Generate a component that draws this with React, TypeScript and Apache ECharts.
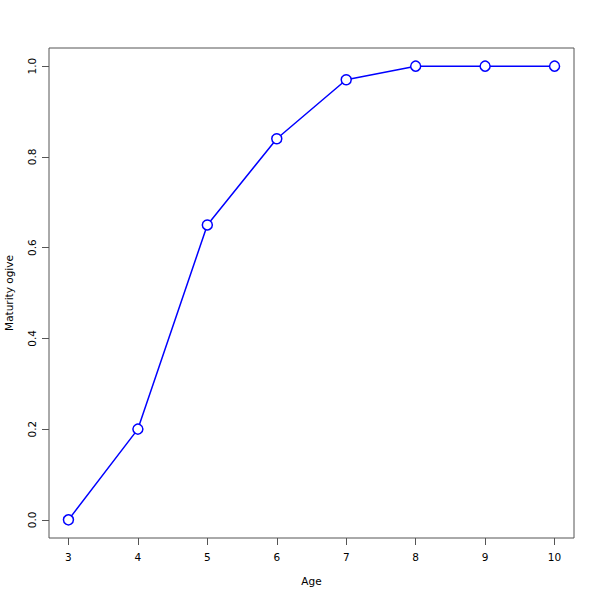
import React, { useEffect, useRef } from "react";
import * as echarts from "echarts";

const ages = [3, 4, 5, 6, 7, 8, 9, 10];
const maturity = [0, 0.2, 0.65, 0.84, 0.97, 1.0, 1.0, 1.0];
const xTicks = [3, 4, 5, 6, 7, 8, 9, 10];
const yTicks = [0, 0.2, 0.4, 0.6, 0.8, 1.0];

export default function App() {
  const ref = useRef<HTMLDivElement>(null);
  useEffect(() => {
    document.body.style.margin = "0";
    const chart = echarts.init(ref.current!, null, { renderer: "svg" });
    const font = "DejaVu Sans";
    chart.setOption({
      animation: false,
      backgroundColor: "#ffffff",
      grid: {
        left: 49,
        right: 26,
        top: 48,
        bottom: 62,
        containLabel: false,
        outerBoundsMode: "none",
        show: true,
        borderColor: "#555555",
        borderWidth: 1,
        backgroundColor: "transparent",
      },
      xAxis: {
        type: "value",
        min: 2.72,
        max: 10.28,
        name: "Age",
        nameLocation: "middle",
        nameGap: 37,
        nameTextStyle: { fontFamily: font, fontSize: 10.5, color: "#000" },
        axisLine: { show: false, onZero: false },
        splitLine: { show: false },
        axisTick: {
          show: true,
          length: 7,
          inside: false,
          customValues: xTicks,
          lineStyle: { color: "#555555" },
        },
        axisLabel: {
          customValues: xTicks,
          margin: 13,
          fontFamily: font,
          fontSize: 10.5,
          color: "#000",
          formatter: (v: number) => String(v),
        },
      },
      yAxis: {
        type: "value",
        min: -0.04,
        max: 1.04,
        name: "Maturity ogive",
        nameLocation: "middle",
        nameGap: 35,
        nameRotate: 90,
        nameTextStyle: { fontFamily: font, fontSize: 10.5, color: "#000" },
        axisLine: { show: false, onZero: false },
        splitLine: { show: false },
        axisTick: {
          show: true,
          length: 7,
          customValues: yTicks,
          lineStyle: { color: "#555555" },
        },
        axisLabel: {
          customValues: yTicks,
          rotate: 90,
          margin: 12,
          fontFamily: font,
          fontSize: 10.5,
          color: "#000",
          formatter: (v: number) => v.toFixed(1),
        },
      },
      series: [
        {
          type: "line",
          data: ages.map((a, i) => [a, maturity[i]]),
          symbol: "circle",
          symbolSize: 10,
          showAllSymbol: true,
          lineStyle: { color: "#0000ff", width: 1.5 },
          itemStyle: { color: "#ffffff", borderColor: "#0000ff", borderWidth: 1.5 },
        },
      ],
    });
    return () => chart.dispose();
  }, []);
  return <div ref={ref} style={{ width: 600, height: 600 }} />;
}
